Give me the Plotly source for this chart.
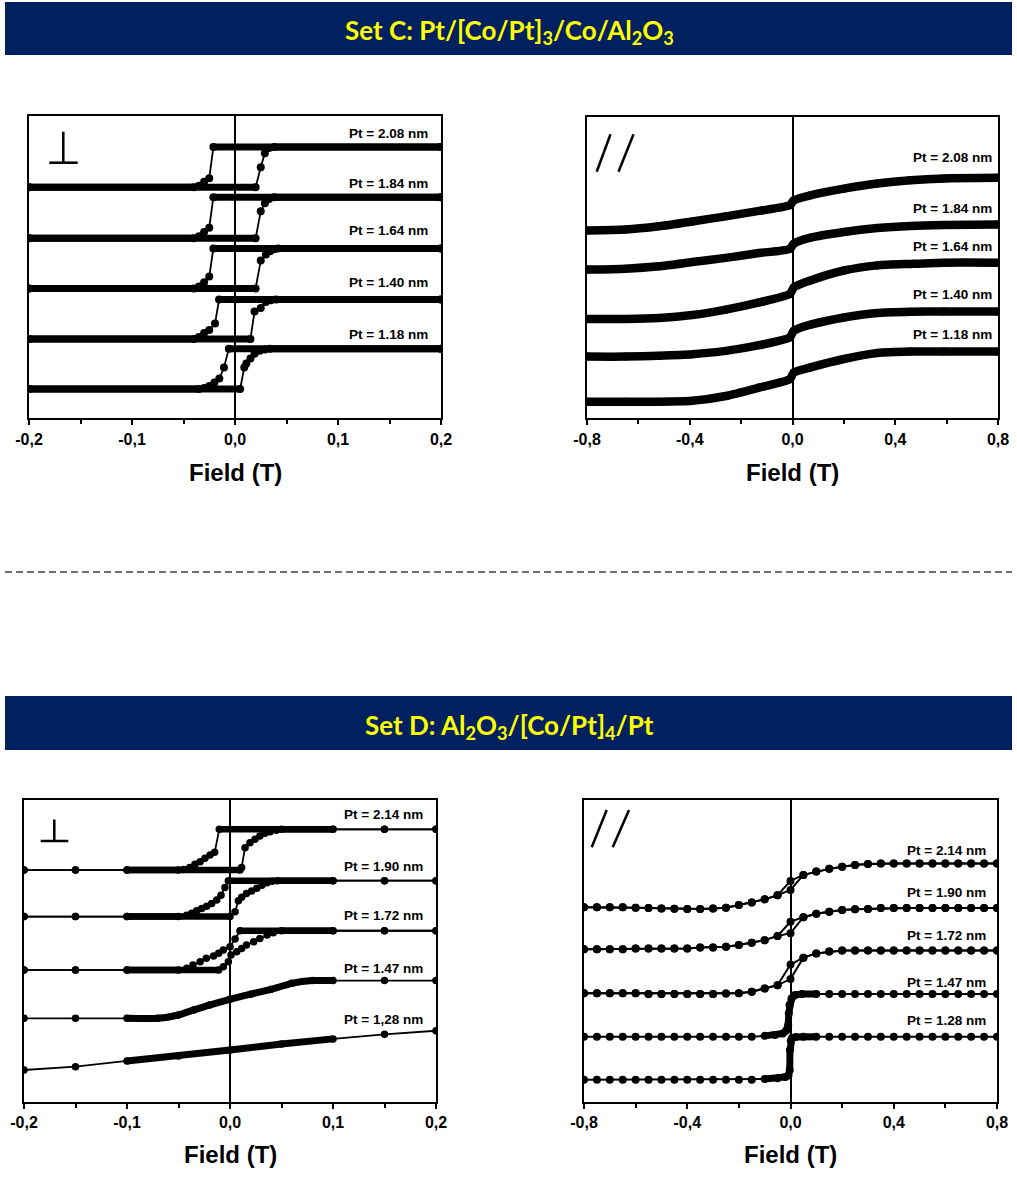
import plotly.graph_objects as go

W, H = 1017, 1187
FONT = "Arial, Liberation Sans, sans-serif"
BANNER_FONT = "Lato, Carlito, Calibri, sans-serif"

# ================= DATA =================
# Field values in tesla; loop magnetisations normalised to -1..+1 and placed
# between a lower and an upper level (arbitrary units, 0..100 stacked scale).

# ---- Set C, perpendicular field ----
C_PERP_LABELS = ["Pt = 2.08 nm", "Pt = 1.84 nm", "Pt = 1.64 nm", "Pt = 1.40 nm", "Pt = 1.18 nm"]
C_PERP_LOW = [76.4, 59.5, 42.9, 26.2, 9.6]
C_PERP_HIGH = [89.7, 73.1, 56.1, 39.2, 22.9]

C_PERP_208_DN_H = [0.2, -0.021, -0.025, -0.030, -0.035, -0.040, -0.2]
C_PERP_208_DN_M = [1, 1, -0.55, -0.73, -0.92, -1, -1]
C_PERP_208_UP_H = [-0.2, 0.020, 0.025, 0.029, 0.033, 0.038, 0.2]
C_PERP_208_UP_M = [-1, -1, 0.0, 0.70, 0.95, 1, 1]

C_PERP_184_DN_H = [0.2, -0.021, -0.025, -0.030, -0.035, -0.040, -0.2]
C_PERP_184_DN_M = [1, 1, -0.48, -0.69, -0.90, -1, -1]
C_PERP_184_UP_H = [-0.2, 0.020, 0.025, 0.029, 0.033, 0.038, 0.2]
C_PERP_184_UP_M = [-1, -1, 0.32, 0.71, 0.92, 1, 1]

C_PERP_164_DN_H = [0.2, -0.021, -0.025, -0.030, -0.035, -0.040, -0.2]
C_PERP_164_DN_M = [1, 1, -0.40, -0.69, -0.90, -1, -1]
C_PERP_164_UP_H = [-0.2, 0.020, 0.025, 0.030, 0.034, 0.038, 0.042, 0.2]
C_PERP_164_UP_M = [-1, -1, 0.40, 0.70, 0.87, 0.97, 1, 1]

C_PERP_140_DN_H = [0.2, -0.0155, -0.0194, -0.025, -0.030, -0.035, -0.040, -0.2]
C_PERP_140_DN_M = [1, 1, -0.22, -0.55, -0.70, -0.90, -1, -1]
C_PERP_140_UP_H = [-0.2, 0.015, 0.019, 0.025, 0.030, 0.035, 0.040, 0.2]
C_PERP_140_UP_M = [-1, -1, 0.40, 0.57, 0.88, 0.97, 1, 1]

C_PERP_118_DN_H = [0.2, -0.006, -0.0107, -0.0152, -0.020, -0.025, -0.030, -0.035, -0.2]
C_PERP_118_DN_M = [1, 1, 0.07, -0.48, -0.68, -0.85, -0.95, -1, -1]
C_PERP_118_UP_H = [-0.2, 0.005, 0.009, 0.011, 0.015, 0.019, 0.024, 0.029, 0.034, 0.2]
C_PERP_118_UP_M = [-1, -1, 0.07, 0.27, 0.52, 0.75, 0.90, 0.97, 1, 1]

# ---- Set C, in-plane field ----
C_PAR_LABELS = ["Pt = 2.08 nm", "Pt = 1.84 nm", "Pt = 1.64 nm", "Pt = 1.40 nm", "Pt = 1.18 nm"]
C_PAR_H = [-0.8, -0.65, -0.52, -0.39, -0.26, -0.13, -0.01, 0.005, 0.07, 0.2, 0.33, 0.46, 0.59, 0.8]
C_PAR_208 = [62.3, 62.6, 63.7, 65.3, 67.0, 68.8, 70.7, 72.3, 74.0, 76.2, 77.9, 79.0, 79.6, 79.8]
C_PAR_184 = [49.3, 49.6, 50.4, 51.8, 53.2, 54.8, 56.2, 57.9, 59.9, 61.8, 63.1, 63.8, 64.1, 64.3]
C_PAR_164 = [32.9, 32.9, 33.2, 34.2, 36.0, 38.4, 41.2, 43.4, 45.7, 49.0, 50.7, 51.2, 51.6, 51.6]
C_PAR_140 = [20.4, 20.4, 20.7, 21.2, 22.3, 24.2, 26.8, 29.0, 31.0, 33.4, 34.9, 35.3, 35.4, 35.4]
C_PAR_118 = [5.4, 5.4, 5.4, 5.7, 7.3, 10.1, 12.9, 15.1, 16.8, 19.6, 21.6, 22.1, 22.1, 22.1]

# ---- Set D, perpendicular field ----
D_PERP_LABELS = ["Pt = 2.14 nm", "Pt = 1.90 nm", "Pt = 1.72 nm", "Pt = 1.47 nm", "Pt = 1,28 nm"]
D_PERP_LOW = [76.8, 61.4, 43.7]
D_PERP_HIGH = [90.3, 73.3, 56.7]

D_PERP_214_DN_H = [0.2, 0.15, 0.1, -0.0104, -0.0149, -0.0194, -0.0243, -0.029, -0.034, -0.039, -0.045, -0.05, -0.1, -0.15, -0.2]
D_PERP_214_DN_M = [1, 1, 1, 1, -0.13, -0.26, -0.42, -0.59, -0.72, -0.87, -0.97, -1, -1, -1, -1]
D_PERP_214_UP_H = [-0.2, -0.15, -0.1, 0.0097, 0.0113, 0.0146, 0.0194, 0.0243, 0.029, 0.034, 0.039, 0.045, 0.05, 0.1, 0.15, 0.2]
D_PERP_214_UP_M = [-1, -1, -1, -1, -0.87, 0.10, 0.34, 0.51, 0.67, 0.80, 0.88, 0.95, 1, 1, 1, 1]

D_PERP_190_DN_H = [0.2, 0.15, 0.1, -0.0016, -0.0049, -0.0087, -0.0129, -0.0178, -0.0226, -0.0275, -0.0324, -0.0372, -0.042, -0.05, -0.1, -0.15, -0.2]
D_PERP_190_DN_M = [1, 1, 1, 1, 0.62, 0.19, -0.08, -0.27, -0.42, -0.55, -0.68, -0.82, -0.93, -1, -1, -1, -1]
D_PERP_190_UP_H = [-0.2, -0.15, -0.1, 0.0, 0.0049, 0.0081, 0.0113, 0.016, 0.021, 0.026, 0.031, 0.036, 0.041, 0.046, 0.1, 0.15, 0.2]
D_PERP_190_UP_M = [-1, -1, -1, -1, -0.73, -0.12, 0.07, 0.29, 0.43, 0.57, 0.75, 0.88, 0.96, 1, 1, 1, 1]

D_PERP_172_DN_H = [0.2, 0.15, 0.1, 0.0097, 0.0049, 0.0, -0.0065, -0.011, -0.016, -0.023, -0.029, -0.036, -0.042, -0.05, -0.1, -0.15, -0.2]
D_PERP_172_DN_M = [1, 1, 1, 1, 0.58, 0.19, 0.02, -0.15, -0.29, -0.40, -0.58, -0.75, -0.91, -1, -1, -1, -1]
D_PERP_172_UP_H = [-0.2, -0.15, -0.1, -0.011, -0.0065, -0.0016, 0.001, 0.0065, 0.0113, 0.016, 0.023, 0.029, 0.036, 0.042, 0.05, 0.1, 0.15, 0.2]
D_PERP_172_UP_M = [-1, -1, -1, -1, -0.83, -0.58, -0.24, -0.07, 0.10, 0.27, 0.44, 0.61, 0.78, 0.90, 1, 1, 1, 1]

D_PERP_147_H = [-0.2, -0.15, -0.1, -0.07, -0.05, -0.035, -0.02, 0.0, 0.02, 0.04, 0.06, 0.08, 0.1, 0.15, 0.2]
D_PERP_147_U = [27.7, 27.7, 27.7, 27.7, 28.8, 30.5, 32.1, 34.0, 35.7, 37.3, 39.3, 40.2, 40.2, 40.2, 40.2]
D_PERP_128_H = [-0.2, -0.15, -0.1, -0.05, 0.0, 0.05, 0.1, 0.15, 0.2]
D_PERP_128_U = [10.6, 11.7, 13.6, 15.2, 17.2, 19.2, 20.9, 22.4, 23.6]

# ---- Set D, in-plane field ----
D_PAR_LABELS = ["Pt = 2.14 nm", "Pt = 1.90 nm", "Pt = 1.72 nm", "Pt = 1.47 nm", "Pt = 1.28 nm"]
D_PAR_H = [-0.8, -0.75, -0.7, -0.65, -0.6, -0.55, -0.5, -0.45, -0.4, -0.35, -0.3, -0.25, -0.2, -0.15,
           -0.1, -0.05, 0.0, 0.05, 0.1, 0.15, 0.2, 0.25, 0.3, 0.35, 0.4, 0.45, 0.5, 0.55, 0.6, 0.65,
           0.7, 0.75, 0.8]
D_PAR_214_UP = [64.5, 64.5, 64.5, 64.5, 64.3, 64.2, 64.1, 64.0, 63.9, 63.9, 64.1, 64.3, 65.2, 66.1,
                67.1, 68.5, 70.2, 75.2, 76.3, 77.2, 77.9, 78.5, 78.8, 79.0, 79.0, 79.0, 79.0, 79.0,
                79.0, 79.0, 79.0, 79.0, 79.0]
D_PAR_214_DN = [64.5, 64.5, 64.5, 64.5, 64.3, 64.2, 64.1, 64.0, 63.9, 63.9, 64.1, 64.3, 65.2, 66.1,
                67.1, 68.5, 73.2, 75.2, 76.3, 77.2, 77.9, 78.5, 78.8, 79.0, 79.0, 79.0, 79.0, 79.0,
                79.0, 79.0, 79.0, 79.0, 79.0]
D_PAR_190_UP = [50.6, 50.6, 50.6, 50.6, 50.8, 50.8, 50.8, 50.8, 50.8, 51.2, 51.2, 51.4, 52.0, 52.7,
                53.6, 55.0, 55.9, 61.2, 62.3, 63.0, 63.6, 63.8, 63.9, 64.2, 64.2, 64.2, 64.2, 64.2,
                64.2, 64.2, 64.2, 64.2, 64.2]
D_PAR_190_DN = [50.6, 50.6, 50.6, 50.6, 50.8, 50.8, 50.8, 50.8, 50.8, 51.2, 51.2, 51.4, 52.0, 52.7,
                53.6, 55.0, 59.7, 61.2, 62.3, 63.0, 63.6, 63.8, 63.9, 64.2, 64.2, 64.2, 64.2, 64.2,
                64.2, 64.2, 64.2, 64.2, 64.2]
D_PAR_172_UP = [36.0, 36.0, 36.0, 36.0, 36.0, 35.8, 35.8, 35.8, 35.8, 35.8, 35.8, 35.9, 36.0, 36.5,
                37.6, 38.7, 40.7, 47.8, 49.2, 49.8, 50.2, 50.2, 50.2, 50.2, 50.2, 50.2, 50.2, 50.2,
                50.2, 50.2, 50.2, 50.2, 50.2]
D_PAR_172_DN = [36.0, 36.0, 36.0, 36.0, 36.0, 35.8, 35.8, 35.8, 35.8, 35.8, 35.8, 35.9, 36.0, 36.5,
                37.6, 38.7, 45.5, 47.8, 49.2, 49.8, 50.2, 50.2, 50.2, 50.2, 50.2, 50.2, 50.2, 50.2,
                50.2, 50.2, 50.2, 50.2, 50.2]
D_PAR_147_H = [-0.8, -0.75, -0.7, -0.65, -0.6, -0.55, -0.5, -0.45, -0.4, -0.35, -0.3, -0.25, -0.2, -0.15,
               -0.1, -0.06, -0.03, -0.017, -0.009, -0.0066, -0.004, 0.004, 0.018, 0.044, 0.1,
               0.15, 0.2, 0.25, 0.3, 0.35, 0.4, 0.45, 0.5, 0.55, 0.6, 0.65, 0.7, 0.75, 0.8]
D_PAR_147_U = [21.6, 21.6, 21.6, 21.6, 21.6, 21.6, 21.6, 21.6, 21.6, 21.6, 21.6, 21.6, 21.6, 21.6,
               21.9, 22.2, 22.7, 23.6, 25.5, 29.4, 32.1, 34.3, 35.4, 35.8, 35.8,
               35.8, 35.8, 35.8, 35.8, 35.8, 35.8, 35.8, 35.8, 35.8, 35.8, 35.8, 35.8, 35.8, 35.8]
D_PAR_128_H = [-0.8, -0.75, -0.7, -0.65, -0.6, -0.55, -0.5, -0.45, -0.4, -0.35, -0.3, -0.25, -0.2, -0.15,
               -0.1, -0.05, -0.02, -0.008, -0.003, -0.002, 0.001, 0.006, 0.02, 0.05, 0.1,
               0.15, 0.2, 0.25, 0.3, 0.35, 0.4, 0.45, 0.5, 0.55, 0.6, 0.65, 0.7, 0.75, 0.8]
D_PAR_128_U = [7.4, 7.4, 7.4, 7.4, 7.4, 7.4, 7.4, 7.4, 7.4, 7.4, 7.4, 7.4, 7.4, 7.4,
               7.6, 7.9, 8.3, 8.8, 10.6, 17.2, 20.3, 21.2, 21.5, 21.6, 21.6,
               21.6, 21.6, 21.6, 21.6, 21.6, 21.6, 21.6, 21.6, 21.6, 21.6, 21.6, 21.6, 21.6, 21.6]

# ---- axes ----
NARROW_TICKS = [-0.2, -0.1, 0.0, 0.1, 0.2]
NARROW_LABELS = ["-0,2", "-0,1", "0,0", "0,1", "0,2"]
NARROW_MINOR = [-0.15, -0.05, 0.05, 0.15]
WIDE_TICKS = [-0.8, -0.4, 0.0, 0.4, 0.8]
WIDE_LABELS = ["-0,8", "-0,4", "0,0", "0,4", "0,8"]
WIDE_MINOR = [-0.6, -0.2, 0.2, 0.6]
X_TITLE = "Field (T)"
TITLE_C = "<b>Set C: Pt/[Co/Pt]<sub>3</sub>/Co/Al<sub>2</sub>O<sub>3</sub></b>"
TITLE_D = "<b>Set D: Al<sub>2</sub>O<sub>3</sub>/[Co/Pt]<sub>4</sub>/Pt</b>"


# ================= HELPERS =================
def px_x(p):
    return p / W


def px_y(p):
    return 1 - p / H


def scale(m, lo, hi):
    return [lo + (v + 1) / 2 * (hi - lo) for v in m]


fig = go.Figure()


def add_curve(xa, ya, hs, ys, msize, thin, thick=0, win=None, min_dh=0.0, spline=False):
    fig.add_trace(go.Scatter(
        x=hs, y=ys, xaxis=xa, yaxis=ya, mode="lines+markers",
        line=dict(color="black", width=thin),
        marker=dict(color="black", size=msize, line=dict(width=0)),
        hoverinfo="skip", showlegend=False))
    if win is None:
        return
    tx, ty, run = [], [], False
    for i in range(len(hs) - 1):
        h0, h1 = hs[i], hs[i + 1]
        ok = (win[0] <= min(h0, h1) and max(h0, h1) <= win[1]
              and abs(h1 - h0) >= min_dh)
        if ok:
            if not run:
                if tx:
                    tx.append(None)
                    ty.append(None)
                tx.append(h0)
                ty.append(ys[i])
            tx.append(h1)
            ty.append(ys[i + 1])
            run = True
        else:
            run = False
    if tx:
        fig.add_trace(go.Scatter(
            x=tx, y=ty, xaxis=xa, yaxis=ya, mode="lines",
            line=dict(color="black", width=thick,
                      shape="spline" if spline else "linear", smoothing=0.6),
            hoverinfo="skip", showlegend=False))


# ---- Panel 1: Set C perpendicular ----
c_perp = [
    (C_PERP_208_DN_H, C_PERP_208_DN_M, C_PERP_208_UP_H, C_PERP_208_UP_M),
    (C_PERP_184_DN_H, C_PERP_184_DN_M, C_PERP_184_UP_H, C_PERP_184_UP_M),
    (C_PERP_164_DN_H, C_PERP_164_DN_M, C_PERP_164_UP_H, C_PERP_164_UP_M),
    (C_PERP_140_DN_H, C_PERP_140_DN_M, C_PERP_140_UP_H, C_PERP_140_UP_M),
    (C_PERP_118_DN_H, C_PERP_118_DN_M, C_PERP_118_UP_H, C_PERP_118_UP_M),
]
for k, (dh, dm, uh, um) in enumerate(c_perp):
    lo, hi = C_PERP_LOW[k], C_PERP_HIGH[k]
    add_curve("x", "y", dh, scale(dm, lo, hi), 8, 1.8, 7, (-0.2, 0.2), 0.009)
    add_curve("x", "y", uh, scale(um, lo, hi), 8, 1.8, 7, (-0.2, 0.2), 0.009)

# ---- Panel 2: Set C in-plane ----
for ys in [C_PAR_208, C_PAR_184, C_PAR_164, C_PAR_140, C_PAR_118]:
    add_curve("x2", "y2", C_PAR_H, ys, 8, 2, 8.5, (-0.8, 0.8), 0.0, spline=True)

# ---- Panel 3: Set D perpendicular ----
d_perp = [
    (D_PERP_214_DN_H, D_PERP_214_DN_M, D_PERP_214_UP_H, D_PERP_214_UP_M),
    (D_PERP_190_DN_H, D_PERP_190_DN_M, D_PERP_190_UP_H, D_PERP_190_UP_M),
    (D_PERP_172_DN_H, D_PERP_172_DN_M, D_PERP_172_UP_H, D_PERP_172_UP_M),
]
for k, (dh, dm, uh, um) in enumerate(d_perp):
    lo, hi = D_PERP_LOW[k], D_PERP_HIGH[k]
    add_curve("x3", "y3", dh, scale(dm, lo, hi), 7.5, 1.8, 6.5, (-0.1, 0.1), 0.009)
    add_curve("x3", "y3", uh, scale(um, lo, hi), 7.5, 1.8, 6.5, (-0.1, 0.1), 0.009)
add_curve("x3", "y3", D_PERP_147_H, D_PERP_147_U, 7.5, 1.8, 7, (-0.1, 0.1), 0.009, spline=True)
add_curve("x3", "y3", D_PERP_128_H, D_PERP_128_U, 7.5, 1.8, 7, (-0.1, 0.1), 0.009)

# ---- Panel 4: Set D in-plane ----
for up, dn in [(D_PAR_214_UP, D_PAR_214_DN), (D_PAR_190_UP, D_PAR_190_DN), (D_PAR_172_UP, D_PAR_172_DN)]:
    add_curve("x4", "y4", D_PAR_H, dn, 8, 2)
    add_curve("x4", "y4", D_PAR_H, up, 8, 2)
add_curve("x4", "y4", D_PAR_147_H, D_PAR_147_U, 8, 2, 7, (-0.1, 0.1), 0.0)
add_curve("x4", "y4", D_PAR_128_H, D_PAR_128_U, 8, 2, 7, (-0.1, 0.1), 0.0)


# ================= LAYOUT =================
def xaxis(dom, anchor, rng, ticks, labels, minor, standoff):
    return dict(
        domain=[px_x(dom[0]), px_x(dom[1])], anchor=anchor, range=rng, automargin=False,
        tickmode="array", tickvals=ticks, ticktext=labels,
        ticks="outside", ticklen=5, tickwidth=2, tickcolor="black",
        minor=dict(tickmode="array", tickvals=minor, ticks="outside",
                   ticklen=4, tickwidth=2, tickcolor="black", showgrid=False),
        ticklabelstandoff=standoff,
        tickfont=dict(family=FONT, size=16, color="black", weight="bold"),
        showline=True, linecolor="black", linewidth=2, mirror=True,
        zeroline=True, zerolinecolor="black", zerolinewidth=2,
        showgrid=False, fixedrange=True)


def yaxis(dom, anchor):
    return dict(
        domain=[px_y(dom[1]), px_y(dom[0])], anchor=anchor, range=[0, 100], automargin=False,
        showticklabels=False, ticks="", showline=True, linecolor="black",
        linewidth=2, mirror=True, zeroline=False, showgrid=False, fixedrange=True)


fig.update_layout(
    width=W, height=H, margin=dict(l=0, r=0, t=0, b=0, pad=0, autoexpand=False),
    paper_bgcolor="white", plot_bgcolor="white", showlegend=False,
    xaxis=xaxis((29, 441), "y", [-0.2, 0.2], NARROW_TICKS, NARROW_LABELS, NARROW_MINOR, 1),
    yaxis=yaxis((116, 418), "x"),
    xaxis2=xaxis((587, 998), "y2", [-0.8, 0.8], WIDE_TICKS, WIDE_LABELS, WIDE_MINOR, 1),
    yaxis2=yaxis((117, 418), "x2"),
    xaxis3=xaxis((24, 436), "y3", [-0.2, 0.2], NARROW_TICKS, NARROW_LABELS, NARROW_MINOR, 0),
    yaxis3=yaxis((800, 1102), "x3"),
    xaxis4=xaxis((584, 997), "y4", [-0.8, 0.8], WIDE_TICKS, WIDE_LABELS, WIDE_MINOR, 0),
    yaxis4=yaxis((800, 1102), "x4"),
)

shapes = []
annotations = []

# banners
for (y0, y1, text, yc) in [(2, 55, TITLE_C, 31), (696, 750, TITLE_D, 726)]:
    shapes.append(dict(type="rect", xref="paper", yref="paper",
                       x0=px_x(5), x1=px_x(1012), y0=px_y(y1), y1=px_y(y0),
                       fillcolor="#002060", line=dict(width=0), layer="below"))
    annotations.append(dict(text=text, xref="paper", yref="paper", x=px_x(509), y=px_y(yc),
                            xanchor="center", yanchor="middle", showarrow=False,
                            font=dict(family=BANNER_FONT, size=26, color="#FFFF00")))

# dashed separator
shapes.append(dict(type="line", xref="paper", yref="paper", x0=px_x(5), x1=px_x(1012),
                   y0=px_y(572), y1=px_y(572), line=dict(color="#404040", width=1.3, dash="7px,4px")))

# perpendicular symbols
for (xc, xl, xr, yt, yb) in [(63.3, 49.3, 77.7, 131.7, 162.7), (54.3, 40.7, 68.3, 819.5, 841)]:
    shapes.append(dict(type="line", xref="paper", yref="paper", x0=px_x(xc), x1=px_x(xc),
                       y0=px_y(yt), y1=px_y(yb), line=dict(color="black", width=2.5)))
    shapes.append(dict(type="line", xref="paper", yref="paper", x0=px_x(xl), x1=px_x(xr),
                       y0=px_y(yb), y1=px_y(yb), line=dict(color="black", width=2.5)))

# parallel symbols
for (xb1, xt1, xb2, xt2, yt, yb) in [(596.7, 610.5, 618.5, 633.5, 134.3, 171.7),
                                     (591.7, 606.7, 612.7, 629.0, 810.0, 847.3)]:
    for (xb, xt) in [(xb1, xt1), (xb2, xt2)]:
        shapes.append(dict(type="line", xref="paper", yref="paper", x0=px_x(xb), x1=px_x(xt),
                           y0=px_y(yb), y1=px_y(yt), line=dict(color="black", width=2.5)))

# curve labels
for labels, xr, ys in [
    (C_PERP_LABELS, 430, [133.3, 183.3, 231, 282.7, 334.3]),
    (C_PAR_LABELS, 994, [157.3, 208.3, 246.7, 295, 334.3]),
    (D_PERP_LABELS, 425, [814, 866, 915, 968.3, 1019.3]),
    (D_PAR_LABELS, 988, [850, 892.7, 935.3, 982.3, 1020.7]),
]:
    for lab, yy in zip(labels, ys):
        annotations.append(dict(text=lab, xref="paper", yref="paper", x=px_x(xr), y=px_y(yy),
                                xanchor="right", yanchor="middle", showarrow=False,
                                font=dict(family=FONT, size=13.5, color="black", weight="bold")))

# axis titles
for xa, yy in [("x", 472), ("x2", 472), ("x3", 1154), ("x4", 1154)]:
    annotations.append(dict(text=X_TITLE, xref=xa + " domain", yref="paper", x=0.5, y=px_y(yy),
                            xanchor="center", yanchor="middle", showarrow=False,
                            font=dict(family=FONT, size=24, color="black", weight="bold")))

fig.update_layout(shapes=shapes, annotations=annotations)

fig.write_html("out.html", config={"displayModeBar": False},
               post_script="document.body.style.margin='0';document.body.style.overflow='hidden';")
